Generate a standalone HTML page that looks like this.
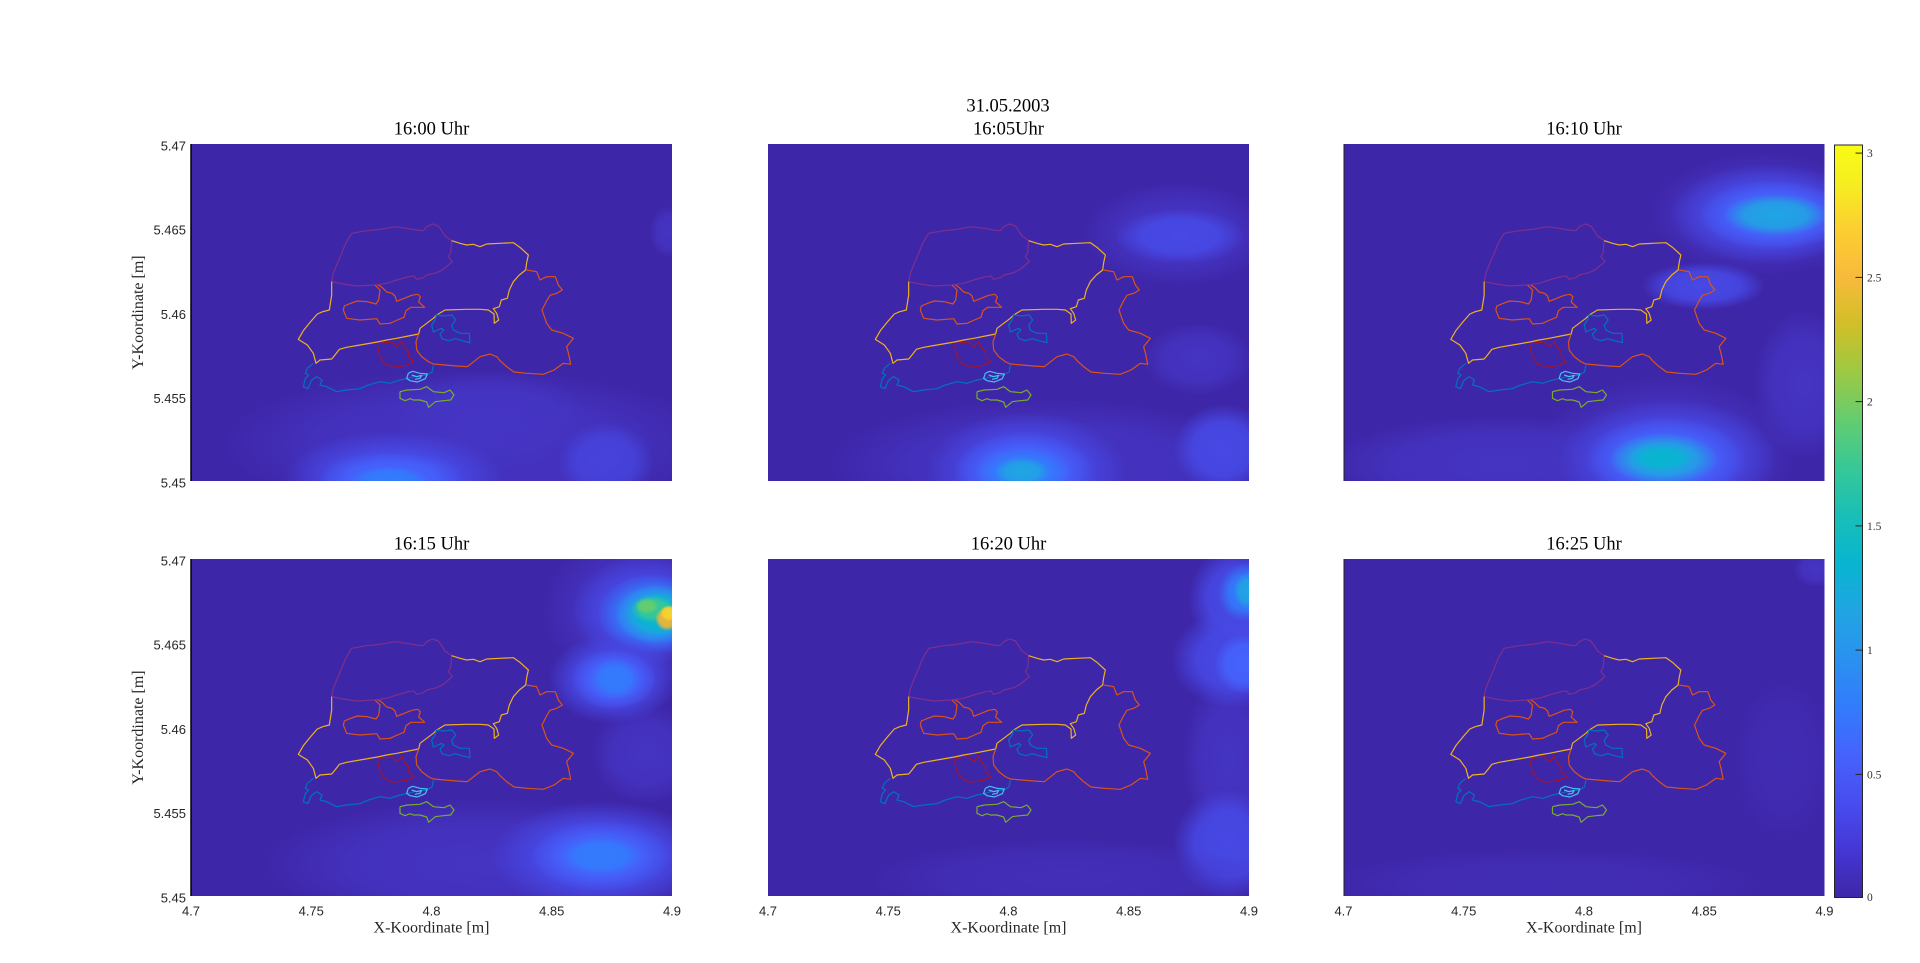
<!DOCTYPE html>
<html>
<head>
<meta charset="utf-8">
<style>
html,body{margin:0;padding:0;background:#fff;}
svg{display:block;}
.tk{font-family:"Liberation Sans",Arial,sans-serif;font-size:13px;fill:#262626;}
.ttl{font-family:"Liberation Serif","Times New Roman",serif;font-size:18.5px;fill:#000;}
.lbl{font-family:"Liberation Serif","Times New Roman",serif;font-size:16px;fill:#262626;}
.cb{font-family:"Liberation Serif","Times New Roman",serif;font-size:11.5px;fill:#333;}
</style>
</head>
<body>
<svg width="1920" height="963" viewBox="0 0 1920 963" xmlns="http://www.w3.org/2000/svg">
<defs>
  <clipPath id="pc"><rect x="0" y="0" width="481" height="337"/></clipPath>
  <radialGradient id="gf"><stop offset="0" stop-color="#4535C4" stop-opacity="0.95"/><stop offset="0.6" stop-color="#4535C4" stop-opacity="0.75"/><stop offset="1" stop-color="#4535C4" stop-opacity="0"/></radialGradient>
  <radialGradient id="gb1"><stop offset="0" stop-color="#4749E6" stop-opacity="1"/><stop offset="0.6" stop-color="#4749E6" stop-opacity="0.85"/><stop offset="1" stop-color="#4749E6" stop-opacity="0"/></radialGradient>
  <radialGradient id="gb2"><stop offset="0" stop-color="#4563FD" stop-opacity="1"/><stop offset="0.6" stop-color="#4563FD" stop-opacity="0.85"/><stop offset="1" stop-color="#4563FD" stop-opacity="0"/></radialGradient>
  <radialGradient id="gb3"><stop offset="0" stop-color="#327CFC" stop-opacity="1"/><stop offset="0.6" stop-color="#327CFC" stop-opacity="0.85"/><stop offset="1" stop-color="#327CFC" stop-opacity="0"/></radialGradient>
  <radialGradient id="gc1"><stop offset="0" stop-color="#20A5E3" stop-opacity="1"/><stop offset="0.6" stop-color="#20A5E3" stop-opacity="0.85"/><stop offset="1" stop-color="#20A5E3" stop-opacity="0"/></radialGradient>
  <radialGradient id="gt1"><stop offset="0" stop-color="#08B5D0" stop-opacity="1"/><stop offset="0.6" stop-color="#08B5D0" stop-opacity="0.85"/><stop offset="1" stop-color="#08B5D0" stop-opacity="0"/></radialGradient>
  <radialGradient id="gg1"><stop offset="0" stop-color="#37C897" stop-opacity="1"/><stop offset="0.6" stop-color="#37C897" stop-opacity="0.9"/><stop offset="1" stop-color="#37C897" stop-opacity="0"/></radialGradient>
  <radialGradient id="gg2"><stop offset="0" stop-color="#64CD6F" stop-opacity="1"/><stop offset="0.6" stop-color="#64CD6F" stop-opacity="0.9"/><stop offset="1" stop-color="#64CD6F" stop-opacity="0"/></radialGradient>
  <radialGradient id="gy1"><stop offset="0" stop-color="#F0B535" stop-opacity="1"/><stop offset="0.65" stop-color="#F0B535" stop-opacity="0.9"/><stop offset="1" stop-color="#F0B535" stop-opacity="0"/></radialGradient>
  <radialGradient id="gy2"><stop offset="0" stop-color="#FAD22C" stop-opacity="1"/><stop offset="0.65" stop-color="#FAD22C" stop-opacity="0.9"/><stop offset="1" stop-color="#FAD22C" stop-opacity="0"/></radialGradient>
  <linearGradient id="parula" x1="0" y1="1" x2="0" y2="0">
    <stop offset="0" stop-color="#3E26A8"/>
    <stop offset="0.0635" stop-color="#4537D5"/>
    <stop offset="0.127" stop-color="#484DF0"/>
    <stop offset="0.19" stop-color="#4563FD"/>
    <stop offset="0.254" stop-color="#327CFC"/>
    <stop offset="0.317" stop-color="#2B91EF"/>
    <stop offset="0.381" stop-color="#20A5E3"/>
    <stop offset="0.444" stop-color="#08B5D0"/>
    <stop offset="0.508" stop-color="#19BFB6"/>
    <stop offset="0.571" stop-color="#37C897"/>
    <stop offset="0.635" stop-color="#64CD6F"/>
    <stop offset="0.698" stop-color="#9DC943"/>
    <stop offset="0.762" stop-color="#D1BF27"/>
    <stop offset="0.825" stop-color="#F8BA3D"/>
    <stop offset="0.889" stop-color="#FCCF30"/>
    <stop offset="0.952" stop-color="#F6EF20"/>
    <stop offset="1" stop-color="#F9FB15"/>
  </linearGradient>
  <g id="outl" fill="none" stroke-width="1.2" stroke-linejoin="round">
    <g transform="translate(89,66) scale(0.33333)">
      <polyline vector-effect="non-scaling-stroke" stroke="#7E2F8E" points="155,215 160,190 170,165 185,130 195,105 200,95 215,70 260,62 300,58 345,50 380,55 410,60 430,62 440,50 458,42 475,48 485,62 495,78 515,92 512,128 505,140 517,155 505,165 490,178 470,188 440,195 430,203 410,208 402,198 385,200 350,210 320,220 285,225 230,228 190,222 155,215"/>
      <polyline vector-effect="non-scaling-stroke" stroke="#EDB120" points="515,92 540,100 560,105 580,103 600,110 620,102 660,100 700,98 720,112 745,135 740,158 737,180 718,195 700,215 688,240 682,265 664,270 658,290 640,296 650,310 656,330 643,340 642,312 625,300 600,298 560,298 495,300 470,315 460,325 440,340 420,355 416,372 385,378 350,385 320,390 292,396 240,405 200,412 178,418 165,435 155,447 120,450 108,460 100,430 82,405 55,388 70,362 92,335 112,312 128,305 148,300 155,255 155,215"/>
      <polyline vector-effect="non-scaling-stroke" stroke="#D95319" points="285,225 300,240 296,270 288,282 262,275 232,273 212,280 193,288 190,300 200,325 240,330 290,326 300,342 330,340 352,330 372,322 378,302 392,292 418,292 434,292 416,276 421,260 413,253 395,256 370,266 350,274 345,258 336,250 320,246 306,232 295,225"/>
      <polyline vector-effect="non-scaling-stroke" stroke="#D95319" points="740,180 770,185 780,210 800,200 826,200 835,225 847,240 830,250 810,256 800,272 786,300 800,340 815,360 850,370 880,385 860,410 866,432 872,463 850,460 822,480 790,493 742,490 702,486 680,470 660,452 650,440 630,432 600,440 562,470 530,468 460,462 445,455 425,440 410,420 408,395 416,372"/>
      <polyline vector-effect="non-scaling-stroke" stroke="#0072BD" points="470,315 492,318 516,315 527,330 515,346 520,360 540,370 568,370 570,398 546,392 526,386 506,392 486,386 480,372 492,360 485,355 460,366 455,345 465,330 470,315"/>
      <polyline vector-effect="non-scaling-stroke" stroke="#0072BD" points="100,460 82,475 76,490 86,495 76,506 70,530 84,536 94,512 110,500 126,510 120,525 140,530 170,545 200,540 240,536 262,526 300,515 330,520 360,510 385,505 402,500 440,495 456,486 460,466"/>
      <polyline vector-effect="non-scaling-stroke" stroke="#4DBEEE" points="385,490 398,484 420,490 442,492 436,506 412,516 390,512 380,505 385,490"/>
      <polyline vector-effect="non-scaling-stroke" stroke="#4DBEEE" points="395,495 410,500 425,496 420,505 405,508"/>
      <polyline vector-effect="non-scaling-stroke" stroke="#A2142F" points="292,405 300,440 315,462 340,472 380,466 402,455 386,440 386,425 372,410 366,394 350,410 336,396 296,400"/>
      <polyline vector-effect="non-scaling-stroke" stroke="#77AC30" points="360,545 382,540 420,538 440,530 460,545 492,548 510,540 522,555 512,570 490,572 466,575 446,592 440,576 420,570 400,570 390,566 375,572 360,565 360,545"/>
    </g>
  </g>
</defs>

<rect x="0" y="0" width="1920" height="963" fill="#fff"/>

<!-- Panel 1: 16:00 -->
<g transform="translate(191,144)">
  <g clip-path="url(#pc)">
    <rect x="0" y="0" width="481" height="337" fill="#3E26A8"/>
    <ellipse cx="280" cy="300" rx="250" ry="75" fill="url(#gf)"/>
    <ellipse cx="300" cy="272" rx="100" ry="45" fill="url(#gf)"/>
    <ellipse cx="202" cy="335" rx="110" ry="48" fill="url(#gb1)"/>
    <ellipse cx="200" cy="335" rx="72" ry="28" fill="url(#gb2)"/>
    <ellipse cx="198" cy="336" rx="40" ry="14" fill="url(#gb3)"/>
    <ellipse cx="415" cy="318" rx="48" ry="40" fill="url(#gb1)" opacity="0.75"/>
    <ellipse cx="478" cy="88" rx="20" ry="26" fill="url(#gf)"/>
  </g>
  <use href="#outl"/>
</g>

<!-- Panel 2: 16:05 -->
<g transform="translate(768,144)">
  <g clip-path="url(#pc)">
    <rect x="0" y="0" width="481" height="337" fill="#3E26A8"/>
    <ellipse cx="280" cy="320" rx="220" ry="65" fill="url(#gf)"/>
    <ellipse cx="410" cy="90" rx="95" ry="52" fill="url(#gf)"/>
    <ellipse cx="412" cy="92" rx="65" ry="28" fill="url(#gb1)"/>
    <ellipse cx="430" cy="215" rx="55" ry="36" fill="url(#gf)"/>
    <ellipse cx="455" cy="305" rx="50" ry="45" fill="url(#gb1)"/>
    <ellipse cx="258" cy="328" rx="100" ry="60" fill="url(#gb1)"/>
    <ellipse cx="256" cy="328" rx="70" ry="40" fill="url(#gb2)"/>
    <ellipse cx="255" cy="328" rx="48" ry="25" fill="url(#gb3)"/>
    <ellipse cx="254" cy="328" rx="28" ry="15" fill="url(#gc1)"/>
  </g>
  <use href="#outl"/>
</g>

<!-- Panel 3: 16:10 -->
<g transform="translate(1343.5,144)">
  <g clip-path="url(#pc)">
    <rect x="0" y="0" width="481" height="337" fill="#3E26A8"/>
    <ellipse cx="160" cy="320" rx="180" ry="48" fill="url(#gf)"/>
    <ellipse cx="460" cy="240" rx="50" ry="75" fill="url(#gf)"/>
    <ellipse cx="420" cy="70" rx="115" ry="62" fill="url(#gf)"/>
    <ellipse cx="425" cy="70" rx="100" ry="50" fill="url(#gb1)"/>
    <ellipse cx="430" cy="71" rx="75" ry="35" fill="url(#gb2)"/>
    <ellipse cx="432" cy="71" rx="52" ry="21" fill="url(#gc1)"/>
    <ellipse cx="360" cy="142" rx="62" ry="24" fill="url(#gb1)"/>
    <ellipse cx="322" cy="310" rx="130" ry="78" fill="url(#gf)"/>
    <ellipse cx="325" cy="315" rx="110" ry="60" fill="url(#gb1)"/>
    <ellipse cx="322" cy="315" rx="80" ry="42" fill="url(#gb2)"/>
    <ellipse cx="320" cy="315" rx="55" ry="26" fill="url(#gc1)"/>
    <ellipse cx="318" cy="314" rx="32" ry="14" fill="url(#gt1)"/>
  </g>
  <use href="#outl"/>
  <line x1="0.5" y1="0" x2="0.5" y2="337" stroke="#222" stroke-width="1"/>
</g>

<!-- Panel 4: 16:15 -->
<g transform="translate(191,559)">
  <g clip-path="url(#pc)">
    <rect x="0" y="0" width="481" height="337" fill="#3E26A8"/>
    <ellipse cx="300" cy="305" rx="230" ry="65" fill="url(#gf)"/>
    <ellipse cx="455" cy="195" rx="55" ry="50" fill="url(#gf)"/>
    <ellipse cx="450" cy="50" rx="100" ry="80" fill="url(#gf)"/>
    <ellipse cx="455" cy="52" rx="75" ry="55" fill="url(#gb1)"/>
    <ellipse cx="462" cy="55" rx="55" ry="40" fill="url(#gb3)"/>
    <ellipse cx="466" cy="55" rx="42" ry="30" fill="url(#gc1)"/>
    <ellipse cx="468" cy="55" rx="32" ry="22" fill="url(#gt1)"/>
    <ellipse cx="462" cy="50" rx="22" ry="14" fill="url(#gg1)"/>
    <ellipse cx="456" cy="47" rx="12" ry="8" fill="url(#gg2)"/>
    <ellipse cx="476" cy="60" rx="12" ry="12" fill="url(#gy1)"/>
    <ellipse cx="478" cy="54" rx="9" ry="8" fill="url(#gy2)"/>
    <ellipse cx="422" cy="120" rx="65" ry="45" fill="url(#gb1)"/>
    <ellipse cx="423" cy="120" rx="42" ry="30" fill="url(#gb2)"/>
    <ellipse cx="424" cy="120" rx="25" ry="20" fill="url(#gb3)"/>
    <ellipse cx="410" cy="297" rx="110" ry="55" fill="url(#gb1)"/>
    <ellipse cx="410" cy="297" rx="70" ry="35" fill="url(#gb2)"/>
    <ellipse cx="410" cy="297" rx="42" ry="20" fill="url(#gb3)"/>
  </g>
  <use href="#outl"/>
  <line x1="0" y1="0" x2="0" y2="337" stroke="#000" stroke-width="1.5"/>
</g>

<!-- Panel 5: 16:20 -->
<g transform="translate(768,559)">
  <g clip-path="url(#pc)">
    <rect x="0" y="0" width="481" height="337" fill="#3E26A8"/>
    <ellipse cx="460" cy="200" rx="45" ry="85" fill="url(#gf)"/>
    <ellipse cx="470" cy="40" rx="50" ry="55" fill="url(#gb1)"/>
    <ellipse cx="478" cy="34" rx="28" ry="30" fill="url(#gb3)"/>
    <ellipse cx="481" cy="32" rx="16" ry="18" fill="url(#gc1)"/>
    <ellipse cx="468" cy="100" rx="65" ry="50" fill="url(#gb1)"/>
    <ellipse cx="476" cy="105" rx="30" ry="30" fill="url(#gb2)"/>
    <ellipse cx="460" cy="285" rx="55" ry="55" fill="url(#gb1)"/>
    <ellipse cx="300" cy="320" rx="200" ry="40" fill="url(#gf)" opacity="0.6"/>
  </g>
  <use href="#outl"/>
</g>

<!-- Panel 6: 16:25 -->
<g transform="translate(1343.5,559)">
  <g clip-path="url(#pc)">
    <rect x="0" y="0" width="481" height="337" fill="#3E26A8"/>
    <ellipse cx="472" cy="10" rx="22" ry="18" fill="url(#gf)"/>
    <ellipse cx="200" cy="325" rx="220" ry="35" fill="url(#gf)" opacity="0.5"/>
    <ellipse cx="440" cy="200" rx="50" ry="80" fill="url(#gf)" opacity="0.4"/>
  </g>
  <use href="#outl"/>
  <line x1="0.5" y1="0" x2="0.5" y2="337" stroke="#222" stroke-width="1"/>
</g>

<!-- Panel 1 left axis line -->
<line x1="191" y1="144" x2="191" y2="481" stroke="#000" stroke-width="1.5"/>

<!-- Titles -->
<text class="ttl" x="1008" y="111.7" text-anchor="middle">31.05.2003</text>
<text class="ttl" x="431.5" y="134.5" text-anchor="middle">16:00 Uhr</text>
<text class="ttl" x="1008.5" y="134.5" text-anchor="middle">16:05Uhr</text>
<text class="ttl" x="1584" y="134.5" text-anchor="middle">16:10 Uhr</text>
<text class="ttl" x="431.5" y="549.5" text-anchor="middle">16:15 Uhr</text>
<text class="ttl" x="1008.5" y="549.5" text-anchor="middle">16:20 Uhr</text>
<text class="ttl" x="1584" y="549.5" text-anchor="middle">16:25 Uhr</text>

<!-- Y tick labels -->
<g class="tk" text-anchor="end">
  <text x="186" y="150.5">5.47</text>
  <text x="186" y="234.7">5.465</text>
  <text x="186" y="319">5.46</text>
  <text x="186" y="403.2">5.455</text>
  <text x="186" y="487.5">5.45</text>
  <text x="186" y="565.5">5.47</text>
  <text x="186" y="649.7">5.465</text>
  <text x="186" y="734">5.46</text>
  <text x="186" y="818.2">5.455</text>
  <text x="186" y="902.5">5.45</text>
</g>

<!-- X tick labels -->
<g class="tk" text-anchor="middle">
  <text x="191" y="915.5">4.7</text>
  <text x="311.25" y="915.5">4.75</text>
  <text x="431.5" y="915.5">4.8</text>
  <text x="551.75" y="915.5">4.85</text>
  <text x="672" y="915.5">4.9</text>
  <text x="768" y="915.5">4.7</text>
  <text x="888.25" y="915.5">4.75</text>
  <text x="1008.5" y="915.5">4.8</text>
  <text x="1128.75" y="915.5">4.85</text>
  <text x="1249" y="915.5">4.9</text>
  <text x="1343.5" y="915.5">4.7</text>
  <text x="1463.75" y="915.5">4.75</text>
  <text x="1584" y="915.5">4.8</text>
  <text x="1704.25" y="915.5">4.85</text>
  <text x="1824.5" y="915.5">4.9</text>
</g>

<!-- Axis labels -->
<g class="lbl" text-anchor="middle">
  <text x="431.5" y="932.7">X-Koordinate [m]</text>
  <text x="1008.5" y="932.7">X-Koordinate [m]</text>
  <text x="1584" y="932.7">X-Koordinate [m]</text>
  <text transform="translate(143,312.5) rotate(-90)" x="0" y="0">Y-Koordinate [m]</text>
  <text transform="translate(143,727.5) rotate(-90)" x="0" y="0">Y-Koordinate [m]</text>
</g>

<!-- Colorbar -->
<rect x="1834.5" y="145" width="28" height="752.5" fill="url(#parula)" stroke="#262626" stroke-width="1"/>
<g stroke="#262626" stroke-width="1">
  <line x1="1855.5" y1="774.4" x2="1862.5" y2="774.4"/>
  <line x1="1855.5" y1="650.1" x2="1862.5" y2="650.1"/>
  <line x1="1855.5" y1="525.9" x2="1862.5" y2="525.9"/>
  <line x1="1855.5" y1="401.6" x2="1862.5" y2="401.6"/>
  <line x1="1855.5" y1="277.4" x2="1862.5" y2="277.4"/>
  <line x1="1855.5" y1="153.1" x2="1862.5" y2="153.1"/>
</g>
<g class="cb">
  <text x="1867" y="901">0</text>
  <text x="1867" y="778.4">0.5</text>
  <text x="1867" y="654.1">1</text>
  <text x="1867" y="529.9">1.5</text>
  <text x="1867" y="405.6">2</text>
  <text x="1867" y="281.4">2.5</text>
  <text x="1867" y="157.1">3</text>
</g>
</svg>
</body>
</html>
